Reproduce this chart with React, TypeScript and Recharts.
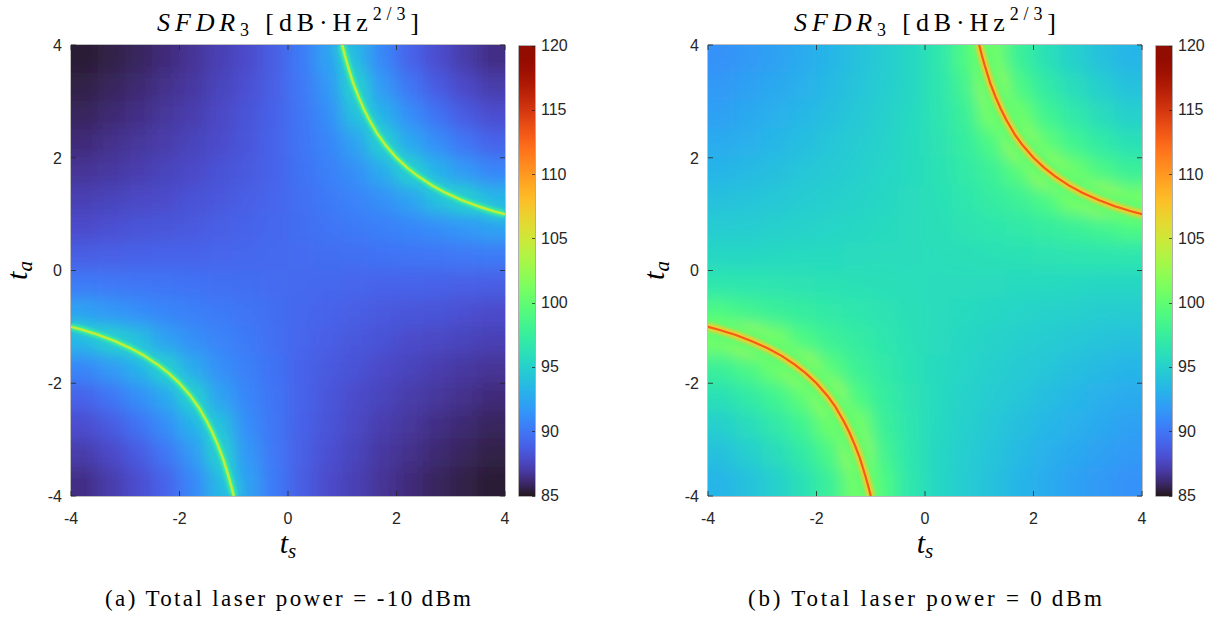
import React from "react";
import { ReferenceArea, Scatter, ScatterChart, XAxis, YAxis } from "recharts";

// cell centres of the sampled grid (t_s left to right, t_a top to bottom)
const tsCenters = [-3.75, -3.25, -2.75, -2.25, -1.75, -1.25, -0.75, -0.25, 0.25, 0.75, 1.25, 1.75, 2.25, 2.75, 3.25, 3.75];
const taCenters = [3.75, 3.25, 2.75, 2.25, 1.75, 1.25, 0.75, 0.25, -0.25, -0.75, -1.25, -1.75, -2.25, -2.75, -3.25, -3.75];
const axisTicks = [-4, -2, 0, 2, 4];
const colorTicks = [120, 115, 110, 105, 100, 95, 90, 85];

// SFDR3 [dB·Hz^2/3], total laser power = -10 dBm
const sfdrMinus10 = [
  [85.3, 85.5, 85.8, 86.2, 86.7, 87.3, 87.9, 88.8, 90.2, 92.3, 93.4, 90.8, 89.1, 88.0, 87.1, 86.4],
  [85.5, 85.8, 86.1, 86.5, 86.9, 87.5, 88.1, 88.9, 90.1, 91.7, 95.0, 91.8, 90.0, 88.7, 87.8, 87.1],
  [85.8, 86.1, 86.4, 86.8, 87.2, 87.7, 88.3, 89.0, 90.0, 91.2, 94.0, 93.1, 91.2, 89.8, 88.7, 88.0],
  [86.2, 86.5, 86.8, 87.1, 87.5, 87.9, 88.4, 89.1, 89.9, 90.8, 92.3, 95.0, 92.6, 91.2, 90.0, 89.1],
  [86.7, 86.9, 87.2, 87.5, 87.8, 88.2, 88.6, 89.1, 89.8, 90.5, 91.3, 92.8, 95.0, 93.1, 91.8, 90.8],
  [87.3, 87.5, 87.7, 87.9, 88.2, 88.5, 88.8, 89.2, 89.7, 90.2, 90.7, 91.3, 92.3, 94.0, 95.0, 93.4],
  [87.9, 88.1, 88.3, 88.4, 88.6, 88.8, 89.1, 89.3, 89.6, 89.9, 90.2, 90.5, 90.8, 91.2, 91.7, 92.3],
  [88.8, 88.9, 89.0, 89.1, 89.1, 89.2, 89.3, 89.4, 89.5, 89.6, 89.7, 89.8, 89.9, 90.0, 90.1, 90.2],
  [90.2, 90.1, 90.0, 89.9, 89.8, 89.7, 89.6, 89.5, 89.4, 89.3, 89.2, 89.1, 89.1, 89.0, 88.9, 88.8],
  [92.3, 91.7, 91.2, 90.8, 90.5, 90.2, 89.9, 89.6, 89.3, 89.1, 88.8, 88.6, 88.4, 88.3, 88.1, 87.9],
  [93.4, 95.0, 94.0, 92.3, 91.3, 90.7, 90.2, 89.7, 89.2, 88.8, 88.5, 88.2, 87.9, 87.7, 87.5, 87.3],
  [90.8, 91.8, 93.1, 95.0, 92.8, 91.3, 90.5, 89.8, 89.1, 88.6, 88.2, 87.8, 87.5, 87.2, 86.9, 86.7],
  [89.1, 90.0, 91.2, 92.6, 95.0, 92.3, 90.8, 89.9, 89.1, 88.4, 87.9, 87.5, 87.1, 86.8, 86.5, 86.2],
  [88.0, 88.7, 89.8, 91.2, 93.1, 94.0, 91.2, 90.0, 89.0, 88.3, 87.7, 87.2, 86.8, 86.4, 86.1, 85.8],
  [87.1, 87.8, 88.7, 90.0, 91.8, 95.0, 91.7, 90.1, 88.9, 88.1, 87.5, 86.9, 86.5, 86.1, 85.8, 85.5],
  [86.4, 87.1, 88.0, 89.1, 90.8, 93.4, 92.3, 90.2, 88.8, 87.9, 87.3, 86.7, 86.2, 85.8, 85.5, 85.3],
];

// SFDR3 [dB·Hz^2/3], total laser power = 0 dBm
const sfdr0 = [
  [91.4, 91.8, 92.2, 92.7, 93.3, 94.0, 94.7, 95.5, 96.7, 99.0, 101.0, 97.8, 96.2, 95.0, 94.0, 93.3],
  [91.8, 92.2, 92.6, 93.0, 93.6, 94.2, 94.8, 95.5, 96.6, 98.3, 103.0, 98.9, 97.1, 95.9, 94.9, 94.0],
  [92.2, 92.6, 93.0, 93.4, 93.9, 94.4, 95.0, 95.6, 96.5, 97.8, 101.2, 100.6, 98.2, 96.9, 95.9, 95.0],
  [92.7, 93.0, 93.4, 93.8, 94.3, 94.7, 95.1, 95.7, 96.4, 97.4, 99.0, 103.0, 99.9, 98.2, 97.1, 96.2],
  [93.3, 93.6, 93.9, 94.3, 94.6, 94.9, 95.3, 95.7, 96.3, 97.0, 97.9, 99.6, 103.0, 100.6, 98.9, 97.8],
  [94.0, 94.2, 94.4, 94.7, 94.9, 95.2, 95.5, 95.8, 96.2, 96.7, 97.3, 97.9, 99.0, 101.2, 103.0, 101.0],
  [94.7, 94.8, 95.0, 95.1, 95.3, 95.5, 95.7, 95.9, 96.1, 96.4, 96.7, 97.0, 97.4, 97.8, 98.3, 99.0],
  [95.5, 95.5, 95.6, 95.7, 95.7, 95.8, 95.9, 95.9, 96.0, 96.1, 96.2, 96.3, 96.4, 96.5, 96.6, 96.7],
  [96.7, 96.6, 96.5, 96.4, 96.3, 96.2, 96.1, 96.0, 95.9, 95.9, 95.8, 95.7, 95.7, 95.6, 95.5, 95.5],
  [99.0, 98.3, 97.8, 97.4, 97.0, 96.7, 96.4, 96.1, 95.9, 95.7, 95.5, 95.3, 95.1, 95.0, 94.8, 94.7],
  [101.0, 103.0, 101.2, 99.0, 97.9, 97.3, 96.7, 96.2, 95.8, 95.5, 95.2, 94.9, 94.7, 94.4, 94.2, 94.0],
  [97.8, 98.9, 100.6, 103.0, 99.6, 97.9, 97.0, 96.3, 95.7, 95.3, 94.9, 94.6, 94.3, 93.9, 93.6, 93.3],
  [96.2, 97.1, 98.2, 99.9, 103.0, 99.0, 97.4, 96.4, 95.7, 95.1, 94.7, 94.3, 93.8, 93.4, 93.0, 92.7],
  [95.0, 95.9, 96.9, 98.2, 100.6, 101.2, 97.8, 96.5, 95.6, 95.0, 94.4, 93.9, 93.4, 93.0, 92.6, 92.2],
  [94.0, 94.9, 95.9, 97.1, 98.9, 103.0, 98.3, 96.6, 95.5, 94.8, 94.2, 93.6, 93.0, 92.6, 92.2, 91.8],
  [93.3, 94.0, 95.0, 96.2, 97.8, 101.0, 99.0, 96.7, 95.5, 94.7, 94.0, 93.3, 92.7, 92.2, 91.8, 91.4],
];

// peak ridge
const ridgeUpperTs = [1, 1.05, 1.1, 1.2, 1.3, 1.4, 1.5, 1.65, 1.8, 2, 2.2, 2.4, 2.65, 2.9, 3.2, 3.5, 3.8, 4];
const ridgeUpperTa = [4, 3.81, 3.64, 3.33, 3.08, 2.86, 2.67, 2.42, 2.22, 2, 1.82, 1.67, 1.51, 1.38, 1.25, 1.14, 1.05, 1];
const ridgeLowerTs = [-1, -1.05, -1.1, -1.2, -1.3, -1.4, -1.5, -1.65, -1.8, -2, -2.2, -2.4, -2.65, -2.9, -3.2, -3.5, -3.8, -4];
const ridgeLowerTa = [-4, -3.81, -3.64, -3.33, -3.08, -2.86, -2.67, -2.42, -2.22, -2, -1.82, -1.67, -1.51, -1.38, -1.25, -1.14, -1.05, -1];

const V_MIN = 85;
const V_MAX = 120;
const CH_W = 610;
const CH_H = 560;
const X_AXIS_H = 30;
const Y_AXIS_W = 40;
const MARGIN = { top: 45, right: 105, bottom: 34, left: 31 };
const PLOT_L = MARGIN.left + Y_AXIS_W;
const PLOT_T = MARGIN.top;
const PLOT_W = CH_W - PLOT_L - MARGIN.right;
const PLOT_H = CH_H - MARGIN.top - MARGIN.bottom - X_AXIS_H;
const PLOT_R = PLOT_L + PLOT_W;
const PLOT_B = PLOT_T + PLOT_H;
const SERIF = '"Liberation Serif", "DejaVu Serif", serif';
const SANS = '"Liberation Sans", Arial, sans-serif';
const INK = "#262626";

// turbo colormap (polynomial fit)
function turbo(t: number) {
  const x = Math.max(0, Math.min(1, t));
  const r = 0.13572138 + x * (4.6153926 + x * (-42.66032258 + x * (132.13108234 + x * (-152.94239396 + x * 59.28637943))));
  const g = 0.09140261 + x * (2.19418839 + x * (4.84296658 + x * (-14.18503333 + x * (4.27729857 + x * 2.82956604))));
  const b = 0.1066733 + x * (12.64194608 + x * (-60.58204836 + x * (110.36276771 + x * (-89.90310912 + x * 27.34824973))));
  const c = (v: number) => Math.round(255 * Math.max(0, Math.min(1, v)));
  return `rgb(${c(r)},${c(g)},${c(b)})`;
}
const colorOf = (v: number) => turbo((v - V_MIN) / (V_MAX - V_MIN));

const cbStops = Array.from({ length: 36 }, (_, i) => `${turbo(i / 35)} ${((i / 35) * 100).toFixed(1)}%`).join(", ");

function HeatCell(props: any) {
  const { cx, cy, payload } = props;
  if (cx == null || cy == null || !payload) return <g />;
  const w = PLOT_W / tsCenters.length;
  const h = PLOT_H / taCenters.length;
  const ext = 26; // run edge cells past the frame so the blur does not fade there
  const l = payload.ts === tsCenters[0] ? ext : 0;
  const r = payload.ts === tsCenters[tsCenters.length - 1] ? ext : 0;
  const t = payload.ta === taCenters[0] ? ext : 0;
  const b = payload.ta === taCenters[taCenters.length - 1] ? ext : 0;
  return (
    <rect
      x={cx - w / 2 - 0.6 - l}
      y={cy - h / 2 - 0.6 - t}
      width={w + 1.2 + l + r}
      height={h + 1.2 + t + b}
      fill={colorOf(payload.v)}
    />
  );
}

const NoPoint = () => <g />;

function XTick(props: any) {
  const { x, payload } = props;
  return (
    <g>
      <line x1={x} x2={x} y1={PLOT_B} y2={PLOT_B - 5} stroke={INK} strokeWidth={0.8} />
      <line x1={x} x2={x} y1={PLOT_T} y2={PLOT_T + 5} stroke={INK} strokeWidth={0.8} />
      <text x={x} y={PLOT_B + 28} textAnchor="middle" fontFamily={SANS} fontSize={16} fill={INK}>
        {payload.value}
      </text>
    </g>
  );
}

function YTick(props: any) {
  const { y, payload } = props;
  return (
    <g>
      <line x1={PLOT_L} x2={PLOT_L + 5} y1={y} y2={y} stroke={INK} strokeWidth={0.8} />
      <line x1={PLOT_R} x2={PLOT_R - 5} y1={y} y2={y} stroke={INK} strokeWidth={0.8} />
      <text x={PLOT_L - 9} y={y} dy="0.36em" textAnchor="end" fontFamily={SANS} fontSize={16} fill={INK}>
        {payload.value}
      </text>
    </g>
  );
}

type Glow = { width: number; value: number; cls: string };

function Panel({ id, grid, left, caption, captionWidth, glows }: { id: string; grid: number[][]; left: number; caption: string; captionWidth: number; glows: Glow[] }) {
  const cells = taCenters.flatMap((ta, r) => tsCenters.map((ts, c) => ({ ts, ta, v: grid[r][c] })));
  const upper = ridgeUpperTs.map((ts, i) => ({ ts, ta: ridgeUpperTa[i] }));
  const lower = ridgeLowerTs.map((ts, i) => ({ ts, ta: ridgeLowerTa[i] }));
  const cx = PLOT_L + PLOT_W / 2;

  return (
    <div style={{ position: "absolute", left, top: 0, width: CH_W, height: 620 }}>
      <ScatterChart width={CH_W} height={CH_H} margin={MARGIN}>
        <defs>
          <filter id={`blur-${id}`} x="-10%" y="-10%" width="120%" height="120%">
            <feGaussianBlur stdDeviation={8.5} />
          </filter>
          <filter id={`soft-${id}`} x="-10%" y="-10%" width="120%" height="120%">
            <feGaussianBlur stdDeviation={3} />
          </filter>
          <filter id={`mid-${id}`} x="-10%" y="-10%" width="120%" height="120%">
            <feGaussianBlur stdDeviation={1.2} />
          </filter>
          <clipPath id={`clip-${id}`}>
            <rect x={PLOT_L} y={PLOT_T} width={PLOT_W} height={PLOT_H} />
          </clipPath>
        </defs>
        <Scatter data={cells} className={`heat-${id}`} shape={HeatCell} isAnimationActive={false} />
        {glows.map((g, k) =>
          [upper, lower].map((branch, j) => (
            <Scatter
              key={`${k}-${j}`}
              data={branch}
              className={`${g.cls}-${id}`}
              fill="none"
              stroke={colorOf(g.value)}
              line={{ stroke: colorOf(g.value), strokeWidth: g.width, strokeLinecap: "round", strokeLinejoin: "round" }}
              lineType="joint"
              shape={NoPoint}
              isAnimationActive={false}
            />
          ))
        )}
        <ReferenceArea x1={-4} x2={4} y1={-4} y2={4} fill="none" stroke="#5a5a5a" strokeWidth={0.8} ifOverflow="visible" />
        <XAxis type="number" dataKey="ts" domain={[-4, 4]} ticks={axisTicks} interval={0} height={X_AXIS_H} axisLine={false} tickLine={false} tick={(p: any) => <XTick {...p} />} />
        <YAxis type="number" dataKey="ta" domain={[-4, 4]} ticks={axisTicks} interval={0} width={Y_AXIS_W} axisLine={false} tickLine={false} tick={(p: any) => <YTick {...p} />} />
      </ScatterChart>

      {/* colorbar */}
      <div style={{ position: "absolute", left: 519, top: PLOT_T + 1, width: 16, height: PLOT_H - 1, background: `linear-gradient(to top, ${cbStops})`, boxShadow: "0 0 0 0.6px #777" }}>
        {colorTicks.map((v) => (
          <div key={v} style={{ position: "absolute", right: 0, width: 3, height: 1, background: "rgba(30,30,30,0.7)", top: ((V_MAX - v) / (V_MAX - V_MIN)) * (PLOT_H - 1) - 0.5 }} />
        ))}
      </div>
      {colorTicks.map((v) => (
        <div key={v} style={{ position: "absolute", left: 541, top: PLOT_T + 1 + ((V_MAX - v) / (V_MAX - V_MIN)) * (PLOT_H - 1), transform: "translateY(-50%)", fontFamily: SANS, fontSize: 16, color: INK, lineHeight: "18px" }}>
          {v}
        </div>
      ))}

      {/* title, axis labels, caption */}
      <svg width={CH_W} height={620} style={{ position: "absolute", left: 0, top: 0, pointerEvents: "none" }}>
        <text x={cx} y={31} textAnchor="middle" fontFamily={SERIF} fontSize={26} fill="#000" textLength={262} lengthAdjust="spacing">
          <tspan fontStyle="italic">SFDR</tspan>
          <tspan fontSize={18} dy={5}>3</tspan>
          <tspan dy={-5}>{" [dB·Hz"}</tspan>
          <tspan fontSize={18} dy={-11}>2/3</tspan>
          <tspan dy={11}>]</tspan>
        </text>
        <text x={cx} y={553} textAnchor="middle" fontFamily={SERIF} fontStyle="italic" fontSize={30} fill="#000">
          t<tspan fontSize={21} dy={5}>s</tspan>
        </text>
        <text transform={`translate(27, ${PLOT_T + PLOT_H / 2}) rotate(-90)`} textAnchor="middle" fontFamily={SERIF} fontStyle="italic" fontSize={30} fill="#000">
          t<tspan fontSize={21} dy={5}>a</tspan>
        </text>
        <text x={cx} y={606} textAnchor="middle" fontFamily={SERIF} fontSize={23} fill="#000" textLength={captionWidth} lengthAdjust="spacing">
          {caption}
        </text>
      </svg>
    </div>
  );
}

const css = `
body { margin: 0; }
.heat-a { filter: url(#blur-a); clip-path: url(#clip-a); }
.heat-b { filter: url(#blur-b); clip-path: url(#clip-b); }
.glow-a { filter: url(#soft-a); clip-path: url(#clip-a); }
.glow-b { filter: url(#soft-b); clip-path: url(#clip-b); }
.mid-a { filter: url(#mid-a); clip-path: url(#clip-a); }
.mid-b { filter: url(#mid-b); clip-path: url(#clip-b); }
.core-a { clip-path: url(#clip-a); }
.core-b { clip-path: url(#clip-b); }
`;

export default function App() {
  return (
    <div style={{ position: "relative", width: 1221, height: 620, background: "#fff", overflow: "hidden" }}>
      <style>{css}</style>
      <Panel
        id="a"
        grid={sfdrMinus10}
        left={0}
        caption={"(a) Total laser power = -10\u2009dBm"}
        captionWidth={366}
        glows={[
          { width: 16, value: 94.5, cls: "glow" },
          { width: 6, value: 98.5, cls: "mid" },
          { width: 2.4, value: 104.5, cls: "core" },
        ]}
      />
      <Panel
        id="b"
        grid={sfdr0}
        left={637}
        caption={"(b) Total laser power = 0\u2009dBm"}
        captionWidth={354}
        glows={[
          { width: 22, value: 100, cls: "glow" },
          { width: 8, value: 107, cls: "mid" },
          { width: 2.2, value: 113, cls: "core" },
        ]}
      />
    </div>
  );
}
